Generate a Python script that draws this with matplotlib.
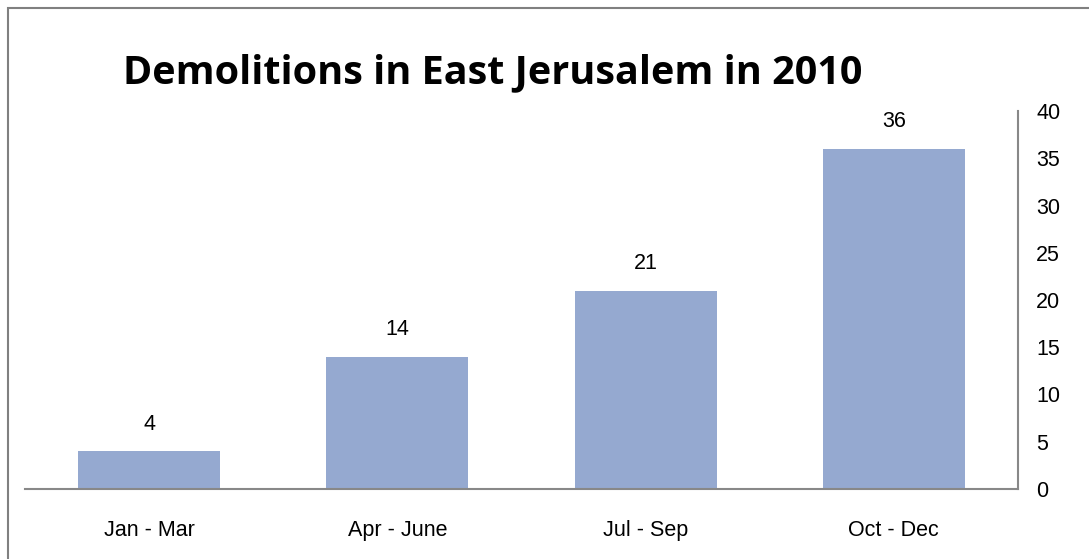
import matplotlib
matplotlib.use("Agg")
import matplotlib.pyplot as plt
import matplotlib.patches as mpatches

# data
quarters = ["Jan - Mar", "Apr - June", "Jul - Sep", "Oct - Dec"]
demolitions = [4, 14, 21, 36]
y_ticks = [0, 5, 10, 15, 20, 25, 30, 35, 40]

W, H = 1089, 559
fig = plt.figure(figsize=(W / 100, H / 100), dpi=100)

# outer chart border (top/left visible, runs off the right & bottom)
fig.patches.append(mpatches.Rectangle((8 / W, -0.1), 1.2, (H - 8) / H + 0.1,
                                      transform=fig.transFigure, fill=False,
                                      edgecolor="#808080", linewidth=1.5))

ax = fig.add_axes([25 / W, (H - 489) / H, (1018 - 25) / W, (489 - 111) / H])
x = range(len(quarters))
bars = ax.bar(x, demolitions, width=0.573, color="#95A9D0", zorder=2)

for xi, v in zip(x, demolitions):
    ax.annotate(str(v), (xi, v), xytext=(0, 12), textcoords="offset points",
                ha="center", va="bottom", fontsize=15.5,
                family="Liberation Sans")

ax.set_xlim(-0.5, len(quarters) - 0.5)
ax.set_ylim(0, 40)
ax.set_yticks(y_ticks)
ax.yaxis.tick_right()
ax.set_xticks(list(x))
ax.set_xticklabels(quarters)
ax.tick_params(axis="y", length=0, pad=13, labelsize=15.5)
ax.tick_params(axis="x", length=0, pad=22, labelsize=15.5)
for lab in ax.get_xticklabels() + ax.get_yticklabels():
    lab.set_family("Liberation Sans")
    lab.set_color("black")
for lab in ax.get_yticklabels():
    lab.set_horizontalalignment("left")

for s in ["top", "left"]:
    ax.spines[s].set_visible(False)
for s in ["bottom", "right"]:
    ax.spines[s].set_color("#888888")
    ax.spines[s].set_linewidth(1.5)

fig.text(123 / W, (H - 83) / H, "Demolitions in East Jerusalem in 2010",
         fontsize=28.5, fontweight="bold", family="Open Sans",
         ha="left", va="baseline")

fig.savefig("out.png", dpi=100)
